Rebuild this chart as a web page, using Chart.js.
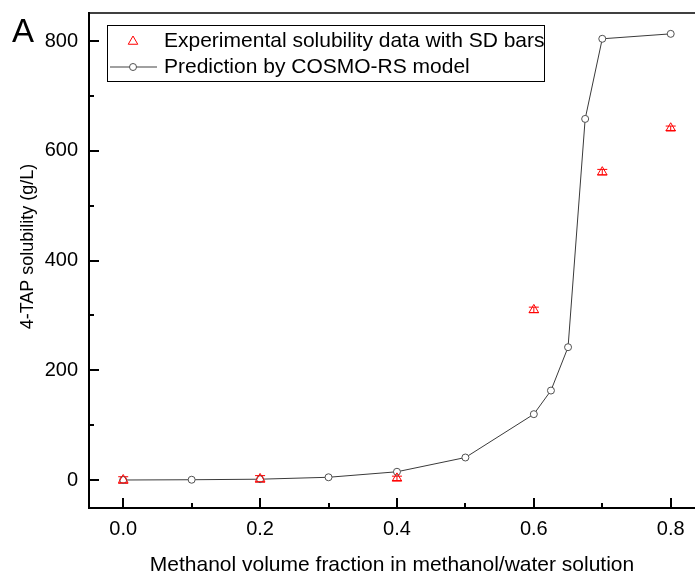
<!DOCTYPE html>
<html><head><meta charset="utf-8">
<script src="https://cdn.jsdelivr.net/npm/chart.js@4"></script>
<style>html,body{margin:0;padding:0;background:#fff}</style>
</head><body>
<canvas id="c" width="695" height="574"></canvas>
<script>
// ---- data ----
const expX = [0, 0.2, 0.4, 0.6, 0.7, 0.8];
const expY = [0, 2, 3, 310, 561, 641];
const expSD = [6, 6, 4, 5, 5, 4];
const predX = [0, 0.1, 0.2, 0.3, 0.4, 0.5, 0.6, 0.625, 0.65, 0.675, 0.7, 0.8];
const predY = [0, 0.5, 1.5, 5, 15, 41, 120, 163, 242, 658, 804, 813];
const xMajorTicks = [0, 0.2, 0.4, 0.6, 0.8];
const xMinorTicks = [0.1, 0.3, 0.5, 0.7];
const yMajorTicks = [0, 200, 400, 600, 800];
const yMinorTicks = [100, 300, 500, 700];
const expLabel = 'Experimental solubility data with SD bars';
const predLabel = 'Prediction by COSMO-RS model';
const xTitle = 'Methanol volume fraction in methanol/water solution';
const yTitle = '4-TAP solubility (g/L)';
const panelLabel = 'A';

const FONT = '"Liberation Sans", Arial, sans-serif';

const expData = expX.map((x, i) => ({x: x, y: expY[i]}));
const predData = predX.map((x, i) => ({x: x, y: predY[i]}));

const decorPlugin = {
  id: 'decor',
  beforeDatasetsDraw(chart) {
    const ctx = chart.ctx, xs = chart.scales.x, ys = chart.scales.y;
    ctx.save();
    ctx.strokeStyle = '#ff0000';
    ctx.lineWidth = 1;
    expX.forEach((x, i) => {
      const px = xs.getPixelForValue(x);
      const top = ys.getPixelForValue(expY[i] + expSD[i]);
      const bot = ys.getPixelForValue(expY[i] - expSD[i]);
      ctx.beginPath();
      ctx.moveTo(px, top); ctx.lineTo(px, bot);
      ctx.moveTo(px - 5, top); ctx.lineTo(px + 5, top);
      ctx.moveTo(px - 5, bot); ctx.lineTo(px + 5, bot);
      ctx.stroke();
    });
    ctx.restore();
  },
  afterDraw(chart) {
    const ctx = chart.ctx, xs = chart.scales.x, ys = chart.scales.y, a = chart.chartArea;
    ctx.save();
    // top frame line
    ctx.strokeStyle = '#000';
    ctx.lineWidth = 1.5;
    ctx.beginPath(); ctx.moveTo(a.left, a.top); ctx.lineTo(a.right, a.top); ctx.stroke();
    // inward ticks
    ctx.lineWidth = 2;
    const tickX = (vals, len) => vals.forEach(v => {
      const p = Math.round(xs.getPixelForValue(v));
      ctx.beginPath(); ctx.moveTo(p, a.bottom); ctx.lineTo(p, a.bottom - len); ctx.stroke();
    });
    const tickY = (vals, len) => vals.forEach(v => {
      const p = Math.round(ys.getPixelForValue(v));
      ctx.beginPath(); ctx.moveTo(a.left, p); ctx.lineTo(a.left + len, p); ctx.stroke();
    });
    tickX(xMajorTicks, 10); tickX(xMinorTicks, 5);
    tickY(yMajorTicks, 10); tickY(yMinorTicks, 5);

    // y title
    ctx.save();
    ctx.translate(28, (a.top + a.bottom) / 2 - 14);
    ctx.rotate(-Math.PI / 2);
    ctx.font = '18px ' + FONT;
    ctx.fillStyle = '#000';
    ctx.textAlign = 'center';
    ctx.textBaseline = 'middle';
    ctx.fillText(yTitle, 0, 0);
    ctx.restore();

    // panel label
    ctx.font = '33px ' + FONT;
    ctx.fillStyle = '#000';
    ctx.textAlign = 'left';
    ctx.textBaseline = 'alphabetic';
    ctx.fillText(panelLabel, 12, 42);

    // legend
    ctx.lineWidth = 1;
    ctx.strokeStyle = '#000';
    ctx.strokeRect(107.5, 25.5, 437, 56);
    const ds0 = chart.data.datasets[0], ds1 = chart.data.datasets[1];
    ctx.strokeStyle = ds0.borderColor; ctx.fillStyle = 'rgba(0,0,0,0)';
    Chart.helpers.drawPoint(ctx, {pointStyle: 'triangle', radius: 5.5, borderWidth: 1, rotation: 0}, 133, 41.5);
    ctx.strokeStyle = '#808080'; ctx.lineWidth = 1.5;
    ctx.beginPath(); ctx.moveTo(110, 67); ctx.lineTo(157, 67); ctx.stroke();
    ctx.strokeStyle = ds1.pointBorderColor; ctx.fillStyle = ds1.pointBackgroundColor; ctx.lineWidth = 1;
    Chart.helpers.drawPoint(ctx, {pointStyle: 'circle', radius: 3.5, borderWidth: 1, rotation: 0}, 133, 67);
    ctx.font = '21px ' + FONT;
    ctx.fillStyle = '#000';
    ctx.textBaseline = 'middle';
    ctx.fillText(expLabel, 164, 41);
    ctx.fillText(predLabel, 164, 67);
    ctx.restore();
  }
};

new Chart(document.getElementById('c'), {
  type: 'scatter',
  data: {
    datasets: [
      {
        label: expLabel, data: expData, showLine: false,
        pointStyle: 'triangle', pointRadius: 5.5, pointBorderWidth: 1,
        borderColor: '#ff0000', pointBorderColor: '#ff0000',
        pointBackgroundColor: 'rgba(255,255,255,0)', backgroundColor: 'rgba(255,255,255,0)'
      },
      {
        label: predLabel, data: predData, showLine: true,
        borderColor: '#3a3a3a', borderWidth: 1, tension: 0,
        pointStyle: 'circle', pointRadius: 3.5, pointBorderWidth: 1,
        pointBorderColor: '#505050', pointBackgroundColor: '#ffffff'
      }
    ]
  },
  options: {
    responsive: false, animation: false,
    layout: {autoPadding: false, padding: {top: 13, right: 0, left: 0, bottom: 0}},
    plugins: {legend: {display: false}, tooltip: {enabled: false}},
    scales: {
      x: {
        type: 'linear', min: -0.05, max: 0.8355,
        afterBuildTicks: s => { s.ticks = xMajorTicks.map(v => ({value: v})); },
        afterFit: s => { s.height = 66; s.paddingLeft = 0; s.paddingRight = 0; },
        grid: {display: false, drawTicks: false},
        border: {display: true, color: '#000', width: 2},
        ticks: {padding: 9, autoSkip: false, maxRotation: 0, color: '#000',
                font: {family: FONT, size: 20}, callback: v => Number(v).toFixed(1)},
        title: {display: true, text: xTitle, color: '#000',
                font: {family: FONT, size: 21}, padding: {top: 0, bottom: -4}}
      },
      y: {
        type: 'linear', min: -51, max: 851,
        afterBuildTicks: s => { s.ticks = yMajorTicks.map(v => ({value: v})); },
        afterFit: s => { s.width = 89; s.paddingTop = 0; s.paddingBottom = 0; },
        grid: {display: false, drawTicks: false},
        border: {display: true, color: '#000', width: 2},
        ticks: {padding: 11, autoSkip: false, color: '#000',
                font: {family: FONT, size: 20}, callback: v => String(v)}
      }
    }
  },
  plugins: [decorPlugin]
});
</script>
</body></html>
